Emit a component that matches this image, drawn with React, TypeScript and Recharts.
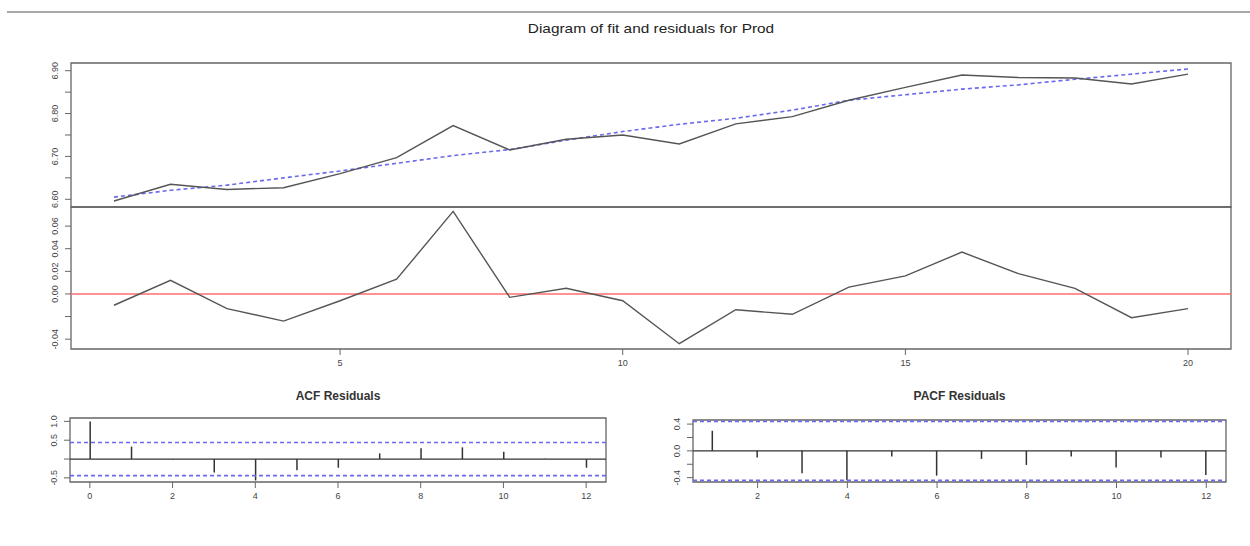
import React from 'react';
import {
  ComposedChart,
  LineChart,
  Line,
  Bar,
  XAxis,
  YAxis,
  ReferenceLine,
  ReferenceArea,
} from 'recharts';

// Prod series, fitted curve and residuals
const periods = [1, 2, 3, 4, 5, 6, 7, 8, 9, 10, 11, 12, 13, 14, 15, 16, 17, 18, 19, 20];
const prod = [
  6.596, 6.635, 6.623, 6.627, 6.66, 6.697, 6.772, 6.715, 6.74, 6.75,
  6.729, 6.776, 6.793, 6.831, 6.861, 6.89, 6.884, 6.883, 6.869, 6.892,
];
const fitted = [
  6.605, 6.621, 6.633, 6.65, 6.666, 6.684, 6.702, 6.716, 6.738, 6.758,
  6.775, 6.789, 6.808, 6.831, 6.844, 6.857, 6.867, 6.88, 6.892, 6.904,
];
const residuals = [
  -0.01, 0.012, -0.013, -0.024, -0.006, 0.013, 0.073, -0.003, 0.005, -0.006,
  -0.044, -0.014, -0.018, 0.006, 0.016, 0.037, 0.018, 0.005, -0.021, -0.013,
];

// autocorrelations of the residuals
const acfLags = [0, 1, 2, 3, 4, 5, 6, 7, 8, 9, 10, 11, 12];
const acfValues = [1.0, 0.33, -0.01, -0.355, -0.57, -0.295, -0.23, 0.15, 0.285, 0.31, 0.195, 0.01, -0.23];
const pacfLags = [1, 2, 3, 4, 5, 6, 7, 8, 9, 10, 11, 12];
const pacfValues = [0.3, -0.1, -0.335, -0.44, -0.085, -0.37, -0.12, -0.21, -0.085, -0.25, -0.1, -0.36];
const ciBound = 0.44;

const prodTicks = [6.6, 6.65, 6.7, 6.75, 6.8, 6.85, 6.9];
const prodLabels = ['6.60', '6.70', '6.80', '6.90'];
const residTicks = [-0.04, -0.02, 0, 0.02, 0.04, 0.06];
const residLabels = ['-0.04', '0.00', '0.02', '0.04', '0.06'];
const acfTicks = [-0.5, 0, 0.5, 1];
const acfLabels = ['-0.5', '0.5', '1.0'];
const pacfTicks = [-0.4, -0.2, 0, 0.2, 0.4];
const pacfLabels = ['-0.4', '0.0', '0.4'];

const W = 1250;
const H = 546;
const YW = 40;
const FONT = '"Liberation Sans", Arial, sans-serif';
const BOX = '#666';
const TICK = { fontSize: 9, fill: '#444', fontFamily: FONT };

const fitData = periods.map((p, i) => ({ p, prod: prod[i], fitted: fitted[i], resid: residuals[i] }));
const acfData = acfLags.map((lag, i) => ({ lag, v: acfValues[i] }));
const pacfData = pacfLags.map((lag, i) => ({ lag, v: pacfValues[i] }));

// vertical labels on the y axis, R style
function RotTick({ x, y, payload, digits, shown }: any) {
  let txt = Number(payload.value).toFixed(digits);
  if (txt.startsWith('-') && Number(txt) === 0) txt = txt.slice(1);
  if (!shown.includes(txt)) return null;
  return (
    <text
      x={x}
      y={y}
      transform={`rotate(-90, ${x}, ${y})`}
      textAnchor="middle"
      fontSize={9}
      fill="#444"
      fontFamily={FONT}
    >
      {txt}
    </text>
  );
}

function Spike(props: any) {
  const { x, y, width, height } = props;
  if (x == null || y == null) return null;
  const cx = x + width / 2;
  return <line x1={cx} x2={cx} y1={y} y2={y + height} stroke="#333" strokeWidth={1.5} />;
}

const layer: React.CSSProperties = { position: 'absolute', left: 0, top: 0 };
const subTitle: React.CSSProperties = {
  position: 'absolute',
  top: 389,
  textAlign: 'center',
  fontSize: 12,
  fontWeight: 'bold',
  color: '#333',
};

export default function App() {
  const xDom: [number, number] = [0.24, 20.76];
  const prodDom: [number, number] = [6.582, 6.918];
  const residDom: [number, number] = [-0.0487, 0.0769];
  const acfX: [number, number] = [-0.48, 12.48];
  const acfY: [number, number] = [-0.61, 1.09];
  const pacfX: [number, number] = [0.56, 12.44];
  const pacfY: [number, number] = [-0.465, 0.461];

  return (
    <div style={{ position: 'absolute', left: 0, top: 0, width: W, height: H, background: '#fff', fontFamily: FONT }}>
      <div style={{ position: 'absolute', left: 7, top: 11, width: W - 7, height: 2, background: '#a8a8a8' }} />
      <div style={{ position: 'absolute', left: 71, width: 1160, top: 21, textAlign: 'center', fontSize: 13.5, color: '#222', transform: 'scaleX(1.14)' }}>
        Diagram of fit and residuals for Prod
      </div>
      <div style={{ ...subTitle, left: 70, width: 536 }}>ACF Residuals</div>
      <div style={{ ...subTitle, left: 693, width: 533 }}>PACF Residuals</div>

      {/* observed vs fitted */}
      <div style={layer}>
        <LineChart width={W} height={H} data={fitData} margin={{ top: 63, right: 19, bottom: H - 207, left: 71 - YW }}>
          <XAxis dataKey="p" type="number" domain={xDom} hide />
          <YAxis
            type="number"
            domain={prodDom}
            ticks={prodTicks}
            interval={0}
            width={YW}
            tickSize={6}
            tickMargin={7}
            axisLine={false}
            tickLine={{ stroke: BOX }}
            tick={<RotTick digits={2} shown={prodLabels} />}
            allowDataOverflow
          />
          <ReferenceArea x1={xDom[0]} x2={xDom[1]} y1={prodDom[0]} y2={prodDom[1]} fill="none" stroke={BOX} strokeWidth={1.3} ifOverflow="visible" />
          <Line dataKey="fitted" stroke="#6a6aee" strokeWidth={1.6} strokeDasharray="4 3" dot={false} isAnimationActive={false} />
          <Line dataKey="prod" stroke="#555" strokeWidth={1.4} dot={false} isAnimationActive={false} />
        </LineChart>
      </div>

      {/* residuals */}
      <div style={layer}>
        <LineChart width={W} height={H} data={fitData} margin={{ top: 207, right: 19, bottom: H - 349 - 30, left: 71 - YW }}>
          <XAxis
            dataKey="p"
            type="number"
            domain={xDom}
            ticks={[5, 10, 15, 20]}
            interval={0}
            height={30}
            tickSize={6}
            tickMargin={5}
            axisLine={false}
            tickLine={{ stroke: BOX }}
            tick={TICK}
            allowDataOverflow
          />
          <YAxis
            type="number"
            domain={residDom}
            ticks={residTicks}
            interval={0}
            width={YW}
            tickSize={6}
            tickMargin={7}
            axisLine={false}
            tickLine={{ stroke: BOX }}
            tick={<RotTick digits={2} shown={residLabels} />}
            allowDataOverflow
          />
          <ReferenceArea x1={xDom[0]} x2={xDom[1]} y1={residDom[0]} y2={residDom[1]} fill="none" stroke={BOX} strokeWidth={1.3} ifOverflow="visible" />
          <ReferenceLine y={0} stroke="#ff6f6f" strokeWidth={1.6} />
          <Line dataKey="resid" stroke="#555" strokeWidth={1.4} dot={false} isAnimationActive={false} />
        </LineChart>
      </div>

      {/* ACF */}
      <div style={layer}>
        <ComposedChart width={W} height={H} data={acfData} margin={{ top: 418, right: W - 606, bottom: H - 482 - 30, left: 70 - YW }}>
          <XAxis
            dataKey="lag"
            type="number"
            domain={acfX}
            ticks={[0, 2, 4, 6, 8, 10, 12]}
            interval={0}
            height={30}
            tickSize={6}
            tickMargin={5}
            axisLine={false}
            tickLine={{ stroke: BOX }}
            tick={TICK}
            allowDataOverflow
          />
          <YAxis
            type="number"
            domain={acfY}
            ticks={acfTicks}
            interval={0}
            width={YW}
            tickSize={6}
            tickMargin={7}
            axisLine={false}
            tickLine={{ stroke: BOX }}
            tick={<RotTick digits={1} shown={acfLabels} />}
            allowDataOverflow
          />
          <ReferenceArea x1={acfX[0]} x2={acfX[1]} y1={acfY[0]} y2={acfY[1]} fill="none" stroke={BOX} strokeWidth={1.3} ifOverflow="visible" />
          <ReferenceLine y={0} stroke="#333" strokeWidth={1.3} />
          <ReferenceLine y={ciBound} stroke="#6a6aee" strokeWidth={1.6} strokeDasharray="4 3" />
          <ReferenceLine y={-ciBound} stroke="#6a6aee" strokeWidth={1.6} strokeDasharray="4 3" />
          <Bar dataKey="v" barSize={2} shape={<Spike />} isAnimationActive={false} />
        </ComposedChart>
      </div>

      {/* PACF */}
      <div style={layer}>
        <ComposedChart width={W} height={H} data={pacfData} margin={{ top: 420, right: W - 1226, bottom: H - 482 - 30, left: 693 - YW }}>
          <XAxis
            dataKey="lag"
            type="number"
            domain={pacfX}
            ticks={[2, 4, 6, 8, 10, 12]}
            interval={0}
            height={30}
            tickSize={6}
            tickMargin={5}
            axisLine={false}
            tickLine={{ stroke: BOX }}
            tick={TICK}
            allowDataOverflow
          />
          <YAxis
            type="number"
            domain={pacfY}
            ticks={pacfTicks}
            interval={0}
            width={YW}
            tickSize={6}
            tickMargin={7}
            axisLine={false}
            tickLine={{ stroke: BOX }}
            tick={<RotTick digits={1} shown={pacfLabels} />}
            allowDataOverflow
          />
          <ReferenceArea x1={pacfX[0]} x2={pacfX[1]} y1={pacfY[0]} y2={pacfY[1]} fill="none" stroke={BOX} strokeWidth={1.3} ifOverflow="visible" />
          <ReferenceLine y={0} stroke="#333" strokeWidth={1.3} />
          <ReferenceLine y={ciBound} stroke="#6a6aee" strokeWidth={1.6} strokeDasharray="4 3" />
          <ReferenceLine y={-ciBound} stroke="#6a6aee" strokeWidth={1.6} strokeDasharray="4 3" />
          <Bar dataKey="v" barSize={2} shape={<Spike />} isAnimationActive={false} />
        </ComposedChart>
      </div>
    </div>
  );
}
